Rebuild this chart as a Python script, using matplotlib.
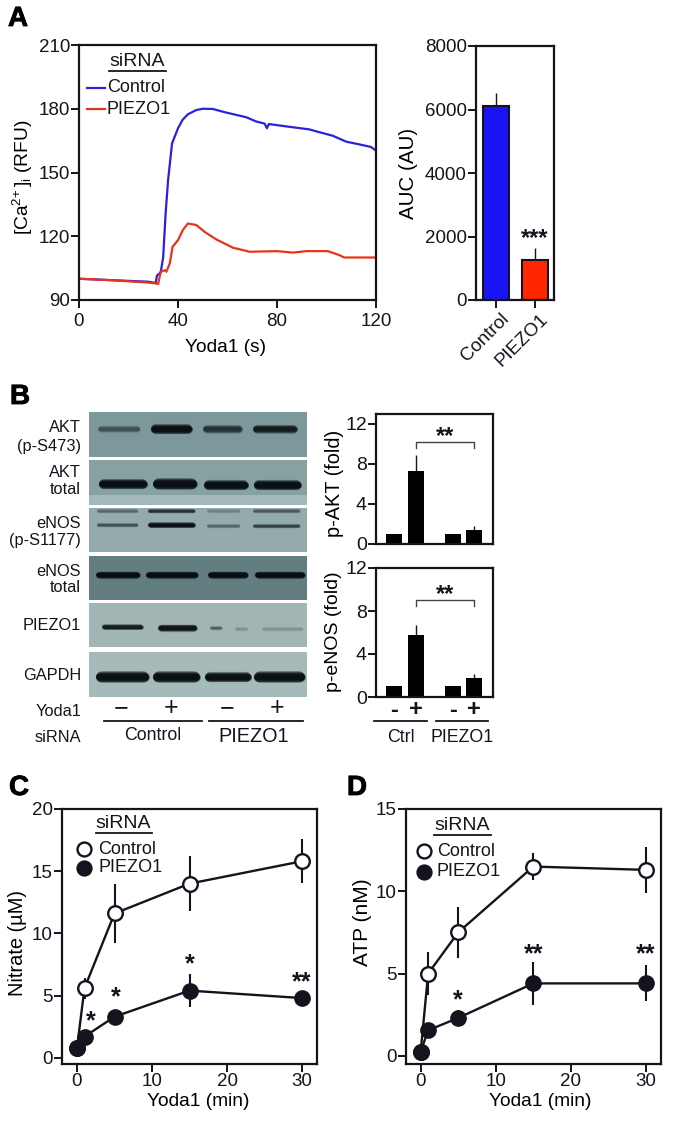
import matplotlib
matplotlib.use('Agg')
import matplotlib.pyplot as plt
import matplotlib.patheffects as pe
from matplotlib.lines import Line2D
from matplotlib.patches import Rectangle
from matplotlib.transforms import ScaledTranslation

W, H = 673, 1126
INK = '#14141f'
plt.rcParams['font.family'] = ['Liberation Sans', 'DejaVu Sans']
plt.rcParams['mathtext.fontset'] = 'custom'
plt.rcParams['mathtext.rm'] = 'Liberation Sans'
plt.rcParams['mathtext.it'] = 'Liberation Sans'
plt.rcParams['mathtext.default'] = 'regular'
plt.rcParams['text.color'] = INK

# panel A traces
t_control = [0, 10, 20, 28, 31, 31.5, 33, 34, 35, 36, 37.6, 40, 41.8, 44, 47.4, 50, 54, 59.5, 67.6, 71.6, 75, 75.9,
             76.7, 85, 93, 97, 102.5, 108, 113, 118, 120]
ca_control = [100, 99.5, 99, 98.6, 98, 101.5, 103, 110, 130.8, 146.5, 163.7, 170.8, 174.7, 177.4, 179.4, 180, 179.9,
              178.2, 176, 174, 173, 170.8, 172.8, 171.5, 170.3, 169, 167.3, 164.5, 163.3, 162, 160.3]
t_piezo = [0, 10, 20, 28, 31, 32, 33, 34.7, 35.3, 36.7, 37.8, 40, 42, 44, 47.4, 50.8, 55.5, 62.2, 69, 80, 86.4, 92,
           100.5, 105, 107.2, 116, 120]
ca_piezo = [100, 99.5, 98.8, 98.2, 97.8, 97.5, 103.3, 104, 103.3, 107.3, 115, 118.2, 123, 126, 125.3, 122, 118.5,
            114.6, 112.7, 113, 112.3, 113, 113, 111.2, 110, 110, 110]

# AUC bars
auc_labels = ['Control', 'PIEZO1']
auc_values = [6100, 1270]
auc_err = [430, 360]
auc_colors = ['#1a14f5', '#ff2600']

# panel B densitometry
fold_x = [0, 1, 2.68, 3.64]
akt_fold = [1.0, 7.3, 1.05, 1.45]
akt_err = [0, 1.6, 0, 0.35]
enos_fold = [1.0, 5.8, 1.05, 1.8]
enos_err = [0, 0.9, 0, 0.3]

# blots: top, bottom, background grey, then bands as (x0, x1, y, thickness, darkness)
blot_tops = [412, 460, 508, 556, 603, 652]
blot_bottoms = [457, 505, 552, 600, 647, 697]
blot_colors = ['#7d989a', '#87a1a1', '#93abab', '#637e80', '#a1b6b4', '#a6bbb9']
blot_bands = [
    [(98, 140, 429, 5, .25), (151, 192, 429, 7, .92), (203, 242, 429, 6, .45), (253, 297, 429, 6, .7)],
    [(99, 147, 484, 7, 1), (153, 197, 484, 8, 1), (204, 248, 485, 7, 1), (254, 301, 485, 7, 1)],
    [(97, 138, 525, 3, .3), (148, 195, 525, 4, .9), (207, 240, 526, 3, .2), (253, 300, 526, 3, .38),
     (97, 138, 511, 3, .2), (148, 195, 511, 3, .5), (207, 240, 511, 3, .1), (253, 300, 511, 3, .25)],
    [(96, 140, 575, 5, 1), (146, 198, 575, 5, 1), (208, 248, 575, 5, 1), (255, 305, 575, 5, 1)],
    [(102, 143, 627, 4, .75), (158, 197, 628, 5, .85), (210, 222, 628, 3, .25), (235, 248, 629, 3, .08),
     (262, 303, 629, 3, .08)],
    [(96, 149, 677, 8, 1), (153, 200, 677, 8, 1), (205, 251, 677, 7, 1), (254, 305, 677, 8, 1)],
]
blot_labels = [('AKT', 428), ('(p-S473)', 446), ('AKT', 472), ('total', 490), ('eNOS', 523), ('(p-S1177)', 540),
               ('eNOS', 572), ('total', 588), ('PIEZO1', 625), ('GAPDH', 676)]

# panels C and D
minutes = [0, 1, 5, 15, 30]
nitrate_control = [0.8, 5.6, 11.6, 14.0, 15.8]
nitrate_control_err = [0.2, 0.85, 2.4, 2.2, 1.75]
nitrate_piezo = [0.75, 1.7, 3.3, 5.4, 4.8]
nitrate_piezo_err = [0.2, 0.3, 0.5, 1.3, 0.4]
atp_control = [0.25, 5.0, 7.5, 11.5, 11.3]
atp_control_err = [0.2, 1.3, 1.55, 0.8, 1.4]
atp_piezo = [0.25, 1.55, 2.3, 4.4, 4.4]
atp_piezo_err = [0.2, 0.4, 0.5, 1.3, 1.1]


def make_axes(left, top, right, bottom):
    ax = fig.add_axes([left / W, 1 - bottom / H, (right - left) / W, (bottom - top) / H])
    for s in ax.spines.values():
        s.set_linewidth(1.6)
        s.set_color(INK)
    ax.tick_params(length=5.5, width=1.4, color=INK, labelsize=13.5, pad=1, labelcolor=INK)
    ax.box_px = (left, top, right, bottom)
    return ax


def place_labels(ax, xlabel=None, xl=None, ylabel=None, yl=None, size=13.8):
    left, top, right, bottom = ax.box_px
    if xlabel:
        ax.set_xlabel(xlabel, fontsize=13.8)
        ax.xaxis.set_label_coords((xl[0] - left) / (right - left), (bottom - xl[1]) / (bottom - top))
        ax.xaxis.label.set_verticalalignment('center')
    if ylabel:
        ax.set_ylabel(ylabel, fontsize=size)
        ax.yaxis.set_label_coords((yl[0] - left) / (right - left), (bottom - yl[1]) / (bottom - top))
        ax.yaxis.label.set_verticalalignment('center')


def txt(x, y, s, size=13, ha='left', **kw):
    return fig.text(x / W, 1 - y / H, s, fontsize=size, ha=ha, va='center', **kw)


def rule(x0, x1, y, lw=1.3, color=INK):
    fig.add_artist(Line2D([x0 / W, x1 / W], [1 - y / H, 1 - y / H], lw=lw, color=color))


def panel_letter(x, y, s):
    t = txt(x, y, s, size=20, fontweight='bold', color='black')
    t.set_path_effects([pe.withStroke(linewidth=0.6, foreground='black')])


def time_panel(ax, control, control_err, piezo, piezo_err):
    ax.errorbar(minutes, control, yerr=control_err, color=INK, lw=1.7, elinewidth=1.5, marker='o', ms=10.5,
                mfc='white', mec=INK, mew=1.7, zorder=3)
    ax.errorbar(minutes, piezo, yerr=piezo_err, color=INK, lw=1.7, elinewidth=1.5, marker='o', ms=11,
                mfc=INK, mec=INK, zorder=4)
    ax.set_xticks([0, 10, 20, 30])


def legend_block(x_line, x_text, y_title, y_rule, rule_x, y_rows, title_x):
    txt(title_x, y_title, 'siRNA', size=14, ha='center')
    rule(rule_x[0], rule_x[1], y_rule)
    for y, s, fc in zip(y_rows, ['Control', 'PIEZO1'], ['white', INK]):
        fig.add_artist(Line2D([x_line / W], [1 - y / H], marker='o', ms=10, mfc=fc, mec=INK, mew=1.7))
        txt(x_text, y, s)


fig = plt.figure(figsize=(W / 100, H / 100), dpi=100)

# A trace
ax = make_axes(79, 45, 376, 300)
ax.plot(t_control, ca_control, color='#2a22d8', lw=1.6)
ax.plot(t_piezo, ca_piezo, color='#e8331c', lw=1.6)
ax.set_xlim(0, 120)
ax.set_ylim(90, 210)
ax.set_xticks([0, 40, 80, 120])
ax.set_yticks([90, 120, 150, 180, 210])
ax.tick_params(axis='x', pad=4)
place_labels(ax, 'Yoda1 (s)', (226, 348), '[Ca$^{2\\!+}$]$_i$ (RFU)', (23, 177))
txt(137, 62, 'siRNA', size=14, ha='center')
rule(109, 166, 71)
rule(87, 105, 88, lw=1.6, color='#2a22d8')
txt(107, 88, 'Control')
rule(87, 105, 109, lw=1.6, color='#e8331c')
txt(107, 109, 'PIEZO1')

# A bars
ax = make_axes(476, 46, 554, 300)
ax.bar([0, 1], auc_values, width=0.68, color=auc_colors, edgecolor=INK, linewidth=1.5, zorder=2)
ax.errorbar([0, 1], auc_values, yerr=[[0, 0], auc_err], fmt='none', ecolor=INK, elinewidth=1, capsize=0, zorder=1)
ax.set_xlim(-0.51, 1.49)
ax.set_ylim(0, 8000)
ax.set_yticks([0, 2000, 4000, 6000, 8000])
ax.set_xticks([0, 1])
ax.set_xticklabels(auc_labels, rotation=45, ha='right', rotation_mode='anchor', fontsize=13.5)
ax.tick_params(axis='x', pad=2)
shift = ScaledTranslation(5 / 100, 0, fig.dpi_scale_trans)
for lab in ax.get_xticklabels():
    lab.set_transform(lab.get_transform() + shift)
place_labels(ax, ylabel='AUC (AU)', yl=(409, 173), size=14.8)
ax.text(1, 2030, '***', fontsize=17, fontweight='bold', ha='center', va='center_baseline')

# B blots
for top, bottom, color, bands in zip(blot_tops, blot_bottoms, blot_colors, blot_bands):
    ax = fig.add_axes([89 / W, 1 - bottom / H, 218 / W, (bottom - top) / H])
    ax.set_xlim(89, 307)
    ax.set_ylim(bottom, top)
    ax.set_axis_off()
    ax.add_patch(Rectangle((89, top), 218, bottom - top, fc=color, ec='none', zorder=0))
    if top == 460:
        ax.add_patch(Rectangle((89, 495), 218, 10, fc='#a3b8b8', ec='none', zorder=1))
    for x0, x1, y, thick, dark in bands:
        # stacked strokes, shortened so the round caps end at the lane edge
        for scale in [1.45, 1.25, 1.1, 0.95, 0.8, 0.65]:
            w = thick * scale
            ax.plot([x0 + w / 2, x1 - w / 2], [y, y], color='#050b0e', lw=w * 0.72, alpha=0.42 * dark,
                    solid_capstyle='round', zorder=2)
for s, y in blot_labels:
    txt(81, y, s, size=11.8, ha='right')
txt(81, 712, 'Yoda1', size=11.8, ha='right')
txt(81, 737, 'siRNA', size=11.8, ha='right')
for x, s in zip([121, 171, 227, 277], ['\u2212', '+', '\u2212', '+']):
    txt(x, 708, s, size=18, ha='center')
rule(104, 202, 721)
rule(209, 303, 721)
txt(153, 736, 'Control', size=12.8, ha='center')
txt(254, 736, 'PIEZO1', size=14.3, ha='center')

# B densitometry
ax = make_axes(376, 414, 493, 544)
ax.bar(fold_x, akt_fold, width=0.71, color='black', zorder=2)
ax.errorbar(fold_x, akt_fold, yerr=[[0] * 4, akt_err], fmt='none', ecolor=INK, elinewidth=1, zorder=1)
ax.set_xlim(-0.82, 4.5)
ax.set_ylim(0, 13)
ax.set_yticks([0, 4, 8, 12])
ax.set_xticks([])
ax.tick_params(labelsize=14)
place_labels(ax, ylabel='p-AKT (fold)', yl=(334, 483), size=14.3)
ax.plot([1, 1, 3.64, 3.64], [9.6, 10.2, 10.2, 9.6], color='#444444', lw=1)
ax.text(2.32, 11, '**', fontsize=17, fontweight='bold', ha='center', va='center_baseline')

ax = make_axes(376, 568, 493, 697)
ax.bar(fold_x, enos_fold, width=0.71, color='black', zorder=2)
ax.errorbar(fold_x, enos_fold, yerr=[[0] * 4, enos_err], fmt='none', ecolor=INK, elinewidth=1, zorder=1)
ax.set_xlim(-0.82, 4.5)
ax.set_ylim(0, 12)
ax.set_yticks([0, 4, 8, 12])
ax.set_xticks([])
ax.tick_params(labelsize=14)
place_labels(ax, ylabel='p-eNOS (fold)', yl=(334, 632), size=14)
ax.plot([1, 1, 3.64, 3.64], [8.45, 9.0, 9.0, 8.45], color='#444444', lw=1)
ax.text(2.32, 9.8, '**', fontsize=17, fontweight='bold', ha='center', va='center_baseline')

for x, s in zip([394, 416, 453, 474], ['-', '+', '-', '+']):
    txt(x, 710, s, size=17, ha='center', fontweight='bold')
rule(374, 427, 721)
rule(436, 488, 721)
txt(401, 737, 'Ctrl', size=12.8, ha='center')
txt(462, 737, 'PIEZO1', size=12.8, ha='center')

# C
ax = make_axes(62, 809, 317, 1064)
time_panel(ax, nitrate_control, nitrate_control_err, nitrate_piezo, nitrate_piezo_err)
ax.set_xlim(-2, 32)
ax.set_ylim(-0.5, 20)
ax.set_yticks([0, 5, 10, 15, 20])
place_labels(ax, 'Yoda1 (min)', (198, 1101), 'Nitrate (\u00b5M)', (17, 943), size=14.4)
for x, y, s in [(1.8, 3.1, '*'), (5.15, 5.1, '*'), (15, 7.7, '*'), (30, 6.3, '**')]:
    ax.text(x, y, s, fontsize=18, fontweight='bold', ha='center', va='center_baseline')
legend_block(84, 98, 824, 833, (96, 152), (849, 868), 123)

# D
ax = make_axes(406, 809, 661, 1064)
time_panel(ax, atp_control, atp_control_err, atp_piezo, atp_piezo_err)
ax.set_xlim(-1.95, 32)
ax.set_ylim(-0.5, 15)
ax.set_yticks([0, 5, 10, 15])
place_labels(ax, 'Yoda1 (min)', (540, 1102), 'ATP (nM)', (363, 922), size=15)
for x, y, s in [(4.9, 3.55, '*'), (15.1, 6.3, '**'), (30, 6.3, '**')]:
    ax.text(x, y, s, fontsize=18, fontweight='bold', ha='center', va='center_baseline')
legend_block(424, 437, 825, 835, (434, 491), (851, 872), 462)

panel_letter(8, 19, 'A')
panel_letter(10, 397, 'B')
panel_letter(9, 788, 'C')
panel_letter(347, 788, 'D')

fig.savefig('out.png', dpi=100)
